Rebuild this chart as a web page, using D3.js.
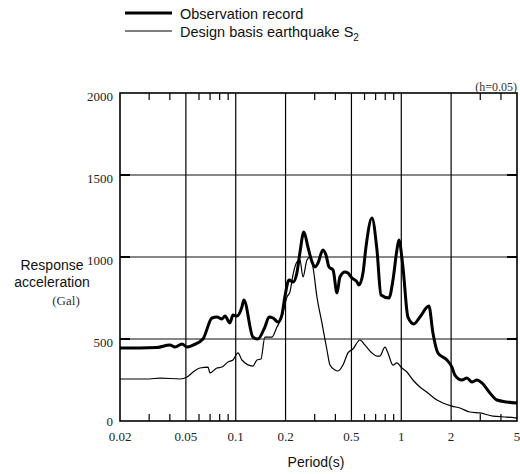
<!DOCTYPE html>
<html>
<head>
<meta charset="utf-8">
<script src="https://cdn.jsdelivr.net/npm/d3@7"></script>
<style>
  body { margin: 0; background: #fff; }
  svg { display: block; }
</style>
</head>
<body>
<script>
// chart size
var w = 520;
var h = 474;

// observation record (thick line)
var obsPeriod = [0.020, 0.0264, 0.0335, 0.040, 0.043, 0.0474, 0.0508, 0.0552, 0.0634, 0.0719,
  0.077, 0.0826, 0.0861, 0.0923, 0.0963, 0.1018, 0.109, 0.112, 0.127, 0.136,
  0.150, 0.159, 0.168, 0.180, 0.190, 0.198, 0.210, 0.222, 0.234, 0.244,
  0.258, 0.273, 0.289, 0.301, 0.314, 0.336, 0.351, 0.366, 0.387, 0.409,
  0.426, 0.457, 0.476, 0.504, 0.540, 0.555, 0.587, 0.612, 0.665, 0.713,
  0.754, 0.842, 0.891, 0.941, 0.968, 1.023, 1.097, 1.193, 1.296, 1.468,
  1.553, 1.665, 1.887, 2.022, 2.108, 2.324, 2.492, 2.671, 2.863, 3.07,
  3.431, 3.782, 4.345, 5.0];
var obsAccel = [445, 445, 448, 463, 451, 470, 451, 463, 500, 628,
  634, 622, 640, 598, 646, 640, 695, 738, 512, 500,
  573, 634, 628, 604, 646, 756, 860, 848, 902, 1024,
  1152, 1061, 970, 939, 963, 1043, 1012, 939, 921, 781,
  878, 909, 902, 872, 848, 829, 902, 1061, 1238, 1043,
  768, 750, 860, 1043, 1104, 939, 634, 592, 634, 701,
  537, 415, 372, 329, 280, 250, 262, 238, 250, 232,
  171, 128, 116, 110];

// design basis earthquake S2 (thin line)
var s2Period = [0.020, 0.030, 0.0349, 0.0461, 0.0508, 0.0544, 0.0608, 0.068, 0.0699, 0.077,
  0.0826, 0.0898, 0.0963, 0.1032, 0.109, 0.127, 0.1344, 0.1421, 0.150, 0.1566,
  0.1656, 0.1775, 0.190, 0.204, 0.2126, 0.2216, 0.2344, 0.2444, 0.2548, 0.2693,
  0.2808, 0.2927, 0.3095, 0.3317, 0.3557, 0.3709, 0.3976, 0.4145, 0.4444, 0.4763,
  0.5106, 0.5627, 0.6034, 0.6649, 0.7128, 0.7431, 0.7966, 0.8307, 0.8906, 0.9414,
  1.009, 1.082, 1.176, 1.296, 1.448, 1.642, 1.785, 2.022, 2.26, 2.598,
  2.986, 3.577, 4.345, 5.0];
var s2Accel = [256, 256, 262, 256, 268, 293, 323, 329, 293, 323,
  329, 360, 372, 415, 372, 335, 372, 378, 512, 512,
  512, 573, 634, 756, 787, 890, 970, 982, 878, 982,
  1000, 939, 756, 598, 433, 341, 311, 305, 341, 415,
  439, 494, 463, 415, 396, 396, 451, 415, 341, 354,
  323, 299, 250, 207, 171, 128, 110, 91, 79, 55,
  49, 30, 24, 18];

// axis ticks
var xMajor = [0.02, 0.05, 0.1, 0.2, 0.5, 1, 2, 5];
var xMajorLabels = ["0.02", "0.05", "0.1", "0.2", "0.5", "1", "2", "5"];
var xMinor = [0.03, 0.04, 0.06, 0.07, 0.08, 0.09, 0.3, 0.4, 0.6, 0.7, 0.8, 0.9, 3, 4];
var yTicks = [0, 500, 1000, 1500, 2000];

var legendLabels = ["Observation record", "Design basis earthquake S"];

var plotL = 120, plotR = 517, plotT = 93, plotB = 421;

var x = d3.scaleLog().domain([0.02, 5]).range([plotL, plotR]);
var y = d3.scaleLinear().domain([0, 2000]).range([plotB, plotT]);

var svg = d3.select("body")
    .append("svg")
    .attr("width", w)
    .attr("height", h);

var serif = "'Liberation Serif', 'DejaVu Serif', serif";
var sans = "'Liberation Sans', Arial, sans-serif";

// grid lines
svg.selectAll(".vgrid")
    .data(xMajor.slice(1, -1))
    .enter()
    .append("line")
    .attr("class", "vgrid")
    .attr("x1", function(d){ return x(d); })
    .attr("x2", function(d){ return x(d); })
    .attr("y1", plotT)
    .attr("y2", plotB)
    .attr("stroke", "#000")
    .attr("stroke-width", 1.2);

svg.selectAll(".hgrid")
    .data(yTicks.slice(1, -1))
    .enter()
    .append("line")
    .attr("class", "hgrid")
    .attr("x1", plotL)
    .attr("x2", plotR)
    .attr("y1", function(d){ return y(d); })
    .attr("y2", function(d){ return y(d); })
    .attr("stroke", "#111")
    .attr("stroke-width", 1.2);

// minor ticks, top and bottom
var tickLen = 7;
svg.selectAll(".minorB")
    .data(xMinor)
    .enter()
    .append("line")
    .attr("x1", function(d){ return x(d); })
    .attr("x2", function(d){ return x(d); })
    .attr("y1", plotB)
    .attr("y2", plotB - tickLen)
    .attr("stroke", "#000")
    .attr("stroke-width", 1.2);

svg.selectAll(".minorT")
    .data(xMinor)
    .enter()
    .append("line")
    .attr("x1", function(d){ return x(d); })
    .attr("x2", function(d){ return x(d); })
    .attr("y1", plotT)
    .attr("y2", plotT + tickLen)
    .attr("stroke", "#000")
    .attr("stroke-width", 1.2);

// short y ticks on both sides
yTicks.slice(1, -1).forEach(function(v){
  svg.append("line")
    .attr("x1", plotL).attr("x2", plotL + 10)
    .attr("y1", y(v)).attr("y2", y(v))
    .attr("stroke", "#000").attr("stroke-width", 2);
  svg.append("line")
    .attr("x1", plotR - 10).attr("x2", plotR)
    .attr("y1", y(v)).attr("y2", y(v))
    .attr("stroke", "#000").attr("stroke-width", 2);
});

// frame
svg.append("rect")
    .attr("x", plotL)
    .attr("y", plotT)
    .attr("width", plotR - plotL)
    .attr("height", plotB - plotT)
    .attr("fill", "none")
    .attr("stroke", "#000")
    .attr("stroke-width", 1.6);

// curves
var line = d3.line()
    .x(function(d){ return x(d[0]); })
    .y(function(d){ return y(d[1]); })
    .curve(d3.curveMonotoneX);

var s2Data = s2Period.map(function(p, i){ return [p, s2Accel[i]]; });
var obsData = obsPeriod.map(function(p, i){ return [p, obsAccel[i]]; });

svg.append("path")
    .datum(s2Data)
    .attr("fill", "none")
    .attr("stroke", "#000")
    .attr("stroke-width", 1.2)
    .attr("d", line);

svg.append("path")
    .datum(obsData)
    .attr("fill", "none")
    .attr("stroke", "#000")
    .attr("stroke-width", 3)
    .attr("stroke-linejoin", "round")
    .attr("d", line);

// tick labels
svg.selectAll(".xlab")
    .data(xMajor)
    .enter()
    .append("text")
    .attr("x", function(d){ return x(d); })
    .attr("y", 441)
    .attr("text-anchor", "middle")
    .attr("font-family", serif)
    .attr("font-size", 13)
    .attr("fill", "#222")
    .text(function(d, i){ return xMajorLabels[i]; });

svg.selectAll(".ylab")
    .data(yTicks)
    .enter()
    .append("text")
    .attr("x", 113)
    .attr("y", function(d){ return d === 0 ? y(d) + 5 : y(d) + 8; })
    .attr("text-anchor", "end")
    .attr("font-family", serif)
    .attr("font-size", 13)
    .attr("fill", "#222")
    .text(function(d){ return d; });

svg.append("text")
    .attr("x", 517)
    .attr("y", 91)
    .attr("text-anchor", "end")
    .attr("font-family", serif)
    .attr("font-size", 12)
    .attr("fill", "#333")
    .text("(h=0.05)");

// axis titles
svg.append("text")
    .attr("x", 316)
    .attr("y", 467)
    .attr("text-anchor", "middle")
    .attr("font-family", sans)
    .attr("font-size", 14)
    .attr("fill", "#111")
    .text("Period(s)");

svg.append("text")
    .attr("x", 52)
    .attr("y", 270)
    .attr("text-anchor", "middle")
    .attr("font-family", sans)
    .attr("font-size", 14)
    .attr("fill", "#111")
    .text("Response");

svg.append("text")
    .attr("x", 52)
    .attr("y", 287)
    .attr("text-anchor", "middle")
    .attr("font-family", sans)
    .attr("font-size", 14)
    .attr("fill", "#111")
    .text("acceleration");

svg.append("text")
    .attr("x", 66)
    .attr("y", 305)
    .attr("text-anchor", "middle")
    .attr("font-family", serif)
    .attr("font-size", 13)
    .attr("fill", "#333")
    .text("(Gal)");

// legend
var legend = svg.append("g").attr("class", "legend");
var legendWidths = [3, 1.2];
var legendY = [14, 32];

legendLabels.forEach(function(label, i){
  legend.append("line")
    .attr("x1", 125)
    .attr("x2", 172)
    .attr("y1", legendY[i] - 1)
    .attr("y2", legendY[i] - 1)
    .attr("stroke", "#000")
    .attr("stroke-width", legendWidths[i]);

  var t = legend.append("text")
    .attr("x", 180)
    .attr("y", legendY[i] + 5)
    .attr("font-family", sans)
    .attr("font-size", 14.5)
    .attr("fill", "#111")
    .text(label);

  if (i === 1) {
    t.append("tspan")
      .attr("font-size", 10)
      .attr("dy", 4)
      .text("2");
  }
});
</script>
</body>
</html>
